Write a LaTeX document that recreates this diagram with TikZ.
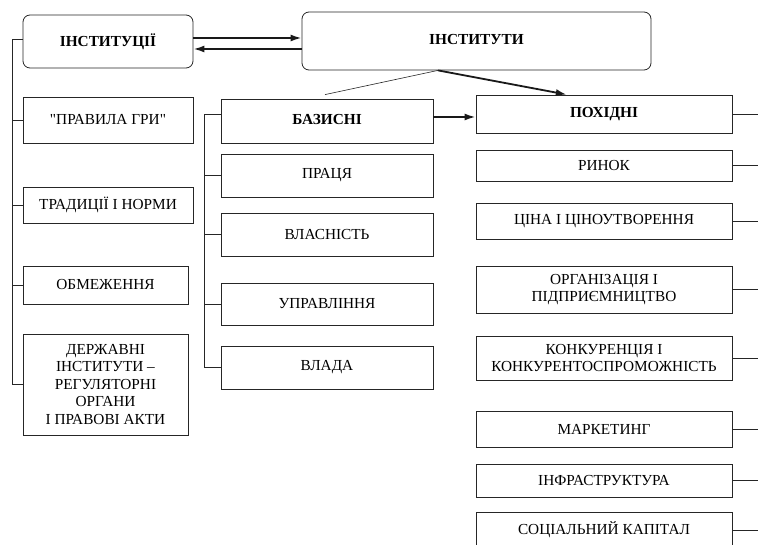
\documentclass[tikz,border=0pt]{standalone}
\usepackage{fontspec}
\setmainfont{Liberation Serif}
\newfontfamily\plainserif{Liberation Serif}
\usetikzlibrary{arrows.meta,calc}
\begin{document}
\begin{tikzpicture}[x=1pt,y=-1pt,
  font=\fontsize{15.3}{17.5}\selectfont,
  box/.style={draw=black!85, line width=0.8pt, inner sep=0pt, align=center, anchor=center},
  rbox/.style={box, rounded corners=7pt},
  link/.style={draw=black!85, line width=0.8pt},
  arr/.style={draw=black!90, line width=1.8pt, -{Latex[length=11pt,width=7pt]}}]
\useasboundingbox (0,0) rectangle (758,545);
\clip (0,0) rectangle (758,545);
% top boxes
\node[rbox, minimum width=170pt, minimum height=53pt] (inst) at (108,41.5) {\textbf{ІНСТИТУЦІЇ}};
\node[rbox, minimum width=349pt, minimum height=58pt] (insty) at (476.5,41) {\raisebox{4pt}{\textbf{ІНСТИТУТИ}}};
% left column
\node[box, minimum width=170pt, minimum height=46pt] (prav) at (108,120) {{\plainserif "ПРАВИЛА ГРИ"}};
\node[box, minimum width=170pt, minimum height=36pt] (trad) at (108,205) {ТРАДИЦІЇ І НОРМИ};
\node[box, minimum width=165pt, minimum height=38pt] (obm) at (105.5,285) {ОБМЕЖЕННЯ};
\node[box, minimum width=165pt, minimum height=101pt] (derzh) at (105.5,384.5) {ДЕРЖАВНІ\\ІНСТИТУТИ –\\РЕГУЛЯТОРНІ\\ОРГАНИ\\І ПРАВОВІ АКТИ};
% middle column
\node[box, minimum width=212pt, minimum height=44pt] (baz) at (327,121) {\raisebox{3pt}{\textbf{БАЗИСНІ}}};
\node[box, minimum width=212pt, minimum height=43pt] (prac) at (327,175.5) {ПРАЦЯ};
\node[box, minimum width=212pt, minimum height=43pt] (vlas) at (327,234.5) {ВЛАСНІСТЬ};
\node[box, minimum width=212pt, minimum height=42pt] (uprav) at (327,304) {УПРАВЛІННЯ};
\node[box, minimum width=212pt, minimum height=43pt] (vlada) at (327,367.5) {\raisebox{4pt}{ВЛАДА}};
% right column
\node[box, minimum width=256pt, minimum height=38pt] (pokh) at (604,114) {\textbf{ПОХІДНІ}};
\node[box, minimum width=256pt, minimum height=31pt] (rynok) at (604,165.5) {РИНОК};
\node[box, minimum width=256pt, minimum height=36pt] (tsina) at (604,221) {ЦІНА І ЦІНОУТВОРЕННЯ};
\node[box, minimum width=256pt, minimum height=47pt] (org) at (604,289.5) {ОРГАНІЗАЦІЯ І\\ПІДПРИЄМНИЦТВО};
\node[box, minimum width=256pt, minimum height=44pt] (konk) at (604,358) {КОНКУРЕНЦІЯ І\\КОНКУРЕНТОСПРОМОЖНІСТЬ};
\node[box, minimum width=256pt, minimum height=36pt] (mark) at (604,429) {МАРКЕТИНГ};
\node[box, minimum width=256pt, minimum height=33pt] (infra) at (604,480.5) {ІНФРАСТРУКТУРА};
\node[box, minimum width=256pt, minimum height=36pt] (soc) at (604,530) {\raisebox{3pt}{СОЦІАЛЬНИЙ КАПІТАЛ}};
% spines
\coordinate (L) at (12,0);
\coordinate (M) at (204,0);
\coordinate (R) at (760,0);
\draw[link] ($(inst.west)+(0,-2.5)$) coordinate (i0) -- (i0 -| L) -- (derzh.west -| L) -- (derzh.west);
\foreach \n in {prav,trad,obm} \draw[link] (\n.west -| L) -- (\n.west);
\draw[link] ($(baz.west)+(0,-7)$) coordinate (b0) -- (b0 -| M) -- (vlada.west -| M) -- (vlada.west);
\foreach \n in {prac,vlas,uprav} \draw[link] (\n.west -| M) -- (\n.west);
\foreach \n in {pokh,rynok,tsina,org,konk,mark,infra,soc} \draw[link] (\n.east) -- (\n.east -| R);
% arrows between top boxes
\draw[arr] ($(inst.east)+(0,-3.5)$) coordinate (a1) -- (a1 -| insty.west);
\draw[arr] ($(insty.west)+(0,8)$) coordinate (a2) -- (a2 -| inst.east);
% from institutes
\coordinate (s0) at ($(insty.south west)!0.39!(insty.south east)$);
\coordinate (bt) at ($(baz.north)+(-2,-4)$);
\coordinate (pt) at ($(pokh.north west)!0.355!(pokh.north east)$);
\draw[link, line width=0.6pt] (s0) -- (bt);
\draw[arr] (s0) -- (pt);
\draw[arr] ($(baz.east)+(0,-4)$) coordinate (a3) -- (a3 -| pokh.west);
\end{tikzpicture}
\end{document}
